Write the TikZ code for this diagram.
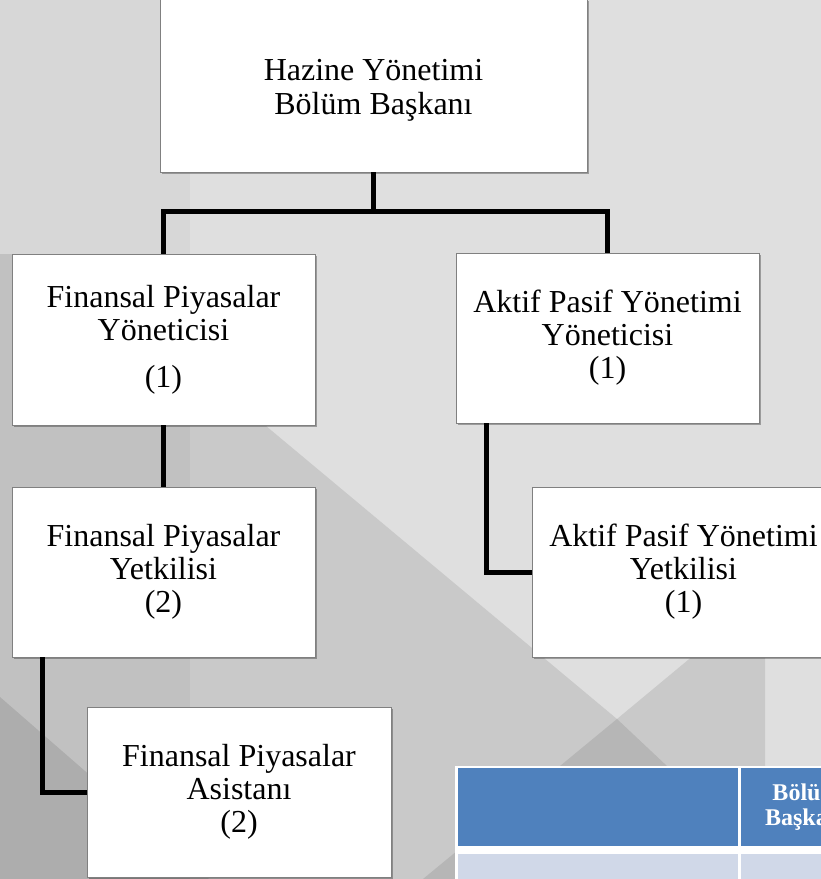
\documentclass[tikz,border=0pt]{standalone}
\usepackage{fontspec}
\setmainfont{Liberation Serif}
\usetikzlibrary{shadows}
\definecolor{bgbase}{HTML}{DFDFDF}
\definecolor{bgdark}{HTML}{C9C9C9}
\definecolor{bgdeep}{HTML}{B6B6B6}
\definecolor{tblblue}{HTML}{4F81BD}
\definecolor{tbllight}{HTML}{D0D8E8}
\begin{document}
\begin{tikzpicture}[x=1pt,y=-1pt,
  orgbox/.style={draw=black!50, line width=0.8pt, fill=white,
    minimum width=303pt, minimum height=170pt, inner sep=0pt, align=center,
    font=\fontsize{32}{33}\selectfont,
    drop shadow={shadow xshift=1.8pt, shadow yshift=-1.8pt, opacity=0.3, fill=black}},
  link/.style={line width=5pt, draw=black},
  cell/.style={inner sep=0pt, outer sep=0pt}]
\useasboundingbox (0,0) rectangle (821,879);
\clip (0,0) rectangle (821,879);
% background
\fill[bgbase] (0,0) rectangle (821,879);
\fill[bgdark] (0,254) -- (60,254) -- (617,719) -- (765,596) -- (765,879) -- (0,879) -- cycle;
\fill[bgdeep] (617,719) -- (423,879) -- (787,879) -- cycle;
\fill[black, opacity=0.035] (0,0) rectangle (190,879);
\fill[black, opacity=0.1] (0,697) -- (209,879) -- (0,879) -- cycle;
% boxes
\node[orgbox, minimum width=427pt, minimum height=173pt] (top) at (373.5,85.5)
  {\raisebox{-5pt}[\height][\depth]{\fontsize{32}{34}\selectfont\begin{tabular}{@{}c@{}}Hazine Yönetimi\\Bölüm Başkanı\end{tabular}}};
\node[orgbox, minimum height=171pt] (fpy) at (163.5,339.5) {Finansal Piyasalar\\Yöneticisi\\[14pt](1)};
\node[orgbox] (apy) at (607.5,338) {Aktif Pasif Yönetimi\\Yöneticisi\\(1)};
\node[orgbox] (fpyet) at (163.5,572) {Finansal Piyasalar\\Yetkilisi\\(2)};
\node[orgbox] (apyet) at (683.5,572) {Aktif Pasif Yönetimi\\Yetkilisi\\(1)};
\node[orgbox, minimum width=304pt] (asis) at (239,792) {Finansal Piyasalar\\Asistanı\\(2)};
% connectors
\draw[link] (top.south) -- ++(0,39) coordinate (hub);
\draw[link] (fpy.north) |- (hub) -| (apy.north);
\draw[link] (fpy.south) -- (fpyet.north);
\draw[link] ([xshift=-121.5pt]apy.south) |- (apyet.west);
\draw[link] ([xshift=-121.5pt]fpyet.south) |- (asis.west);
% table
\node[cell, fill=white, minimum width=420pt, minimum height=140pt, anchor=north west] (tbl) at (455,766) {};
\node[cell, fill=tblblue, minimum width=280pt, minimum height=78pt, anchor=north west] (h1) at (458,768) {};
\node[cell, fill=tblblue, minimum width=131pt, minimum height=78pt, anchor=north west,
  text=white, align=center, font=\bfseries\fontsize{24}{25}\selectfont] (h2) at (741,768) {Bölüm\\Başkanı};
\node[cell, fill=tbllight, minimum width=280pt, minimum height=60pt, anchor=north west] (r1) at (458,854) {};
\node[cell, fill=tbllight, minimum width=131pt, minimum height=60pt, anchor=north west] (r2) at (741,854) {};
\end{tikzpicture}
\end{document}
